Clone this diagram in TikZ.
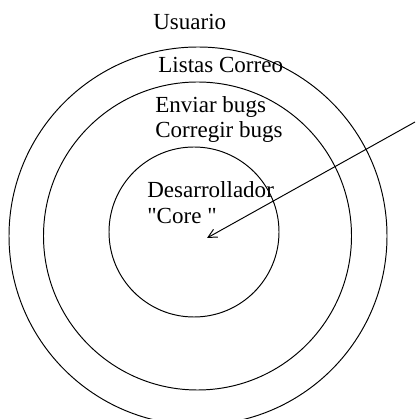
\documentclass[tikz,border=0pt]{standalone}
\usepackage{fontspec}
\setmainfont{Liberation Serif}[Ligatures=TeXOff]
\usetikzlibrary{arrows.meta}
\tikzset{
  ring/.style = {line width=0.55pt},
  rotulo/.style = {anchor=base west, inner sep=0pt, font=\fontsize{13.1}{15}\selectfont}
}
\begin{document}
\begin{tikzpicture}
  \useasboundingbox (-3.96,-3.66) rectangle (4.34,4.72);
  \begin{scope}
    \clip (-3.96,-3.66) rectangle (4.34,4.72);
    \draw[ring] (0,0) circle (3.78cm);
  \end{scope}
  \draw[ring] (-0.01,0) circle (3.08cm);
  \draw[ring] (-0.08,0.08) circle (1.7cm);
  \node[rotulo] (usuario) at (-0.90,4.12) {Usuario};
  \node[rotulo] (listas) at (-0.80,3.26) {Listas Correo};
  \node[rotulo] (enviar) at (-0.86,2.46) {Enviar bugs};
  \node[rotulo] (corregir) at (-0.86,1.96) {Corregir bugs};
  \node[rotulo] (desarrollador) at (-1.02,0.76) {Desarrollador};
  \node[rotulo] (core) at (-1.02,0.24) {"Core "};
  \coordinate (entrada) at (4.34,2.28);
  \coordinate (nucleo) at (0.18,-0.04);
  \draw[ring, -{Straight Barb[length=5pt,width=5pt]}] (entrada) -- (nucleo);
\end{tikzpicture}
\end{document}
